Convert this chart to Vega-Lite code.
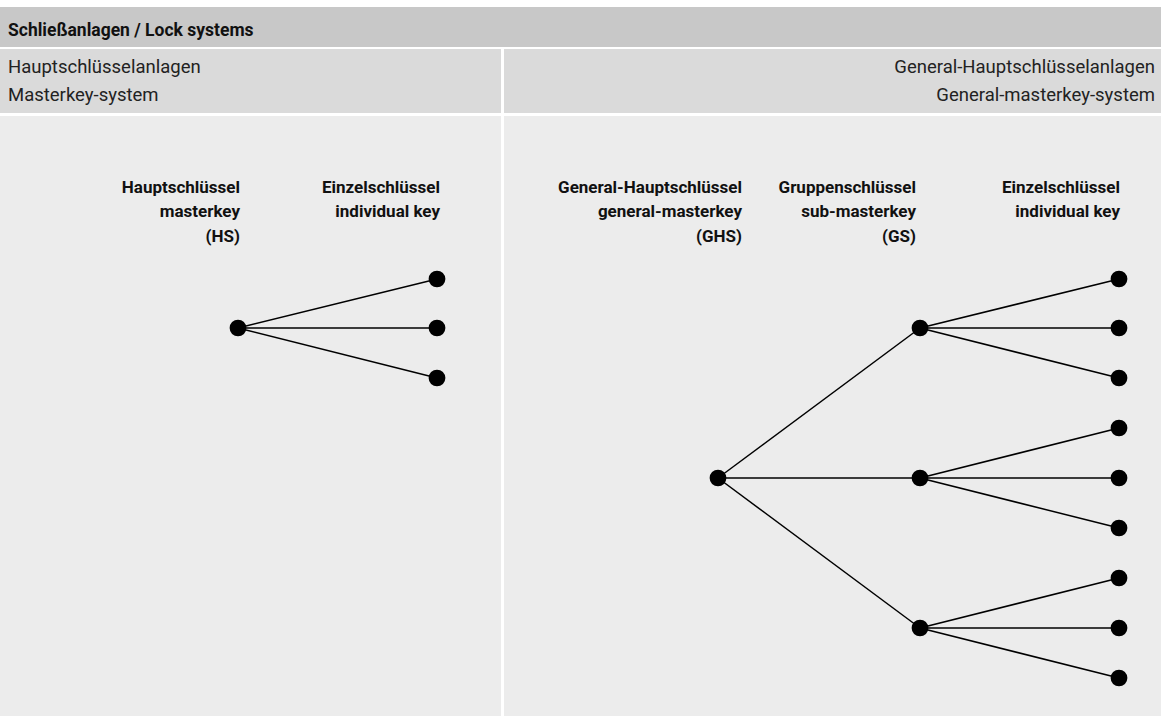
{
  "$schema": "https://vega.github.io/schema/vega-lite/v6.json",
  "width": 1161,
  "height": 716,
  "padding": 0,
  "autosize": {"type": "fit", "contains": "padding"},
  "background": "#ffffff",
  "config": {"view": {"stroke": null}, "axis": {"disable": true}},
  "datasets": {
    "panels": [
      {"part": "header", "x0": 0, "x1": 1161, "y0": 7, "y1": 47},
      {"part": "sub", "x0": 0, "x1": 501, "y0": 49, "y1": 113},
      {"part": "sub", "x0": 504, "x1": 1161, "y0": 49, "y1": 113},
      {"part": "body", "x0": 0, "x1": 501, "y0": 116, "y1": 716},
      {"part": "body", "x0": 504, "x1": 1161, "y0": 116, "y1": 716}
    ],
    "edges": [
      {"from": "HS", "to": "E1", "x0": 238, "y0": 328, "x1": 437, "y1": 279},
      {"from": "HS", "to": "E2", "x0": 238, "y0": 328, "x1": 437, "y1": 328},
      {"from": "HS", "to": "E3", "x0": 238, "y0": 328, "x1": 437, "y1": 378},
      {"from": "GHS", "to": "GS1", "x0": 718, "y0": 478, "x1": 920, "y1": 328},
      {"from": "GHS", "to": "GS2", "x0": 718, "y0": 478, "x1": 920, "y1": 478},
      {"from": "GHS", "to": "GS3", "x0": 718, "y0": 478, "x1": 920, "y1": 628},
      {"from": "GS1", "to": "K1", "x0": 920, "y0": 328, "x1": 1119, "y1": 279},
      {"from": "GS1", "to": "K2", "x0": 920, "y0": 328, "x1": 1119, "y1": 328},
      {"from": "GS1", "to": "K3", "x0": 920, "y0": 328, "x1": 1119, "y1": 378},
      {"from": "GS2", "to": "K4", "x0": 920, "y0": 478, "x1": 1119, "y1": 428},
      {"from": "GS2", "to": "K5", "x0": 920, "y0": 478, "x1": 1119, "y1": 478},
      {"from": "GS2", "to": "K6", "x0": 920, "y0": 478, "x1": 1119, "y1": 528},
      {"from": "GS3", "to": "K7", "x0": 920, "y0": 628, "x1": 1119, "y1": 578},
      {"from": "GS3", "to": "K8", "x0": 920, "y0": 628, "x1": 1119, "y1": 628},
      {"from": "GS3", "to": "K9", "x0": 920, "y0": 628, "x1": 1119, "y1": 678}
    ],
    "nodes": [
      {"id": "HS", "x": 238, "y": 328},
      {"id": "E1", "x": 437, "y": 279},
      {"id": "E2", "x": 437, "y": 328},
      {"id": "E3", "x": 437, "y": 378},
      {"id": "GHS", "x": 718, "y": 478},
      {"id": "GS1", "x": 920, "y": 328},
      {"id": "GS2", "x": 920, "y": 478},
      {"id": "GS3", "x": 920, "y": 628},
      {"id": "K1", "x": 1119, "y": 279},
      {"id": "K2", "x": 1119, "y": 328},
      {"id": "K3", "x": 1119, "y": 378},
      {"id": "K4", "x": 1119, "y": 428},
      {"id": "K5", "x": 1119, "y": 478},
      {"id": "K6", "x": 1119, "y": 528},
      {"id": "K7", "x": 1119, "y": 578},
      {"id": "K8", "x": 1119, "y": 628},
      {"id": "K9", "x": 1119, "y": 678}
    ],
    "labels": [
      {"text": "Hauptschlüssel", "x": 240, "y": 188},
      {"text": "masterkey", "x": 240, "y": 212},
      {"text": "(HS)", "x": 240, "y": 237},
      {"text": "Einzelschlüssel", "x": 440, "y": 188},
      {"text": "individual key", "x": 440, "y": 212},
      {"text": "General-Hauptschlüssel", "x": 742, "y": 188},
      {"text": "general-masterkey", "x": 742, "y": 212},
      {"text": "(GHS)", "x": 742, "y": 237},
      {"text": "Gruppenschlüssel", "x": 916, "y": 188},
      {"text": "sub-masterkey", "x": 916, "y": 212},
      {"text": "(GS)", "x": 916, "y": 237},
      {"text": "Einzelschlüssel", "x": 1120, "y": 188},
      {"text": "individual key", "x": 1120, "y": 212}
    ],
    "leftHeads": [
      {"text": "Hauptschlüsselanlagen", "x": 8, "y": 67},
      {"text": "Masterkey-system", "x": 8, "y": 95}
    ],
    "rightHeads": [
      {"text": "General-Hauptschlüsselanlagen", "x": 1155, "y": 67},
      {"text": "General-masterkey-system", "x": 1155, "y": 95}
    ],
    "title": [
      {"text": "Schließanlagen / Lock systems", "x": 8, "y": 31}
    ]
  },
  "encoding": {
    "x": {"type": "quantitative", "scale": {"domain": [0, 1161], "nice": false, "zero": false}, "axis": null},
    "y": {"type": "quantitative", "scale": {"domain": [0, 716], "nice": false, "zero": false, "reverse": true}, "axis": null}
  },
  "layer": [
    {
      "data": {"name": "panels"},
      "mark": {"type": "rect"},
      "encoding": {
        "x": {"field": "x0", "type": "quantitative"},
        "x2": {"field": "x1"},
        "y": {"field": "y0", "type": "quantitative"},
        "y2": {"field": "y1"},
        "color": {"field": "part", "type": "nominal", "legend": null,
          "scale": {"domain": ["header", "sub", "body"], "range": ["#c8c8c8", "#dadada", "#ececec"]}}
      }
    },
    {
      "data": {"name": "edges"},
      "mark": {"type": "rule", "color": "#000000", "strokeWidth": 1.5},
      "encoding": {
        "x": {"field": "x0", "type": "quantitative"},
        "y": {"field": "y0", "type": "quantitative"},
        "x2": {"field": "x1"},
        "y2": {"field": "y1"}
      }
    },
    {
      "data": {"name": "nodes"},
      "mark": {"type": "circle", "color": "#000000", "opacity": 1, "size": 280},
      "encoding": {
        "x": {"field": "x", "type": "quantitative"},
        "y": {"field": "y", "type": "quantitative"}
      }
    },
    {
      "data": {"name": "labels"},
      "mark": {"type": "text", "align": "right", "baseline": "middle", "font": "Roboto", "fontWeight": "bold", "fontSize": 17, "color": "#111111"},
      "encoding": {
        "x": {"field": "x", "type": "quantitative"},
        "y": {"field": "y", "type": "quantitative"},
        "text": {"field": "text"}
      }
    },
    {
      "data": {"name": "leftHeads"},
      "mark": {"type": "text", "align": "left", "baseline": "middle", "font": "Roboto", "fontSize": 18.5, "fontWeight": "normal", "color": "#222222"},
      "encoding": {
        "x": {"field": "x", "type": "quantitative"},
        "y": {"field": "y", "type": "quantitative"},
        "text": {"field": "text"}
      }
    },
    {
      "data": {"name": "rightHeads"},
      "mark": {"type": "text", "align": "right", "baseline": "middle", "font": "Roboto", "fontSize": 18.5, "fontWeight": "normal", "color": "#222222"},
      "encoding": {
        "x": {"field": "x", "type": "quantitative"},
        "y": {"field": "y", "type": "quantitative"},
        "text": {"field": "text"}
      }
    },
    {
      "data": {"name": "title"},
      "mark": {"type": "text", "align": "left", "baseline": "middle", "font": "Roboto", "fontWeight": "bold", "fontSize": 17.5, "color": "#111111"},
      "encoding": {
        "x": {"field": "x", "type": "quantitative"},
        "y": {"field": "y", "type": "quantitative"},
        "text": {"field": "text"}
      }
    }
  ]
}
